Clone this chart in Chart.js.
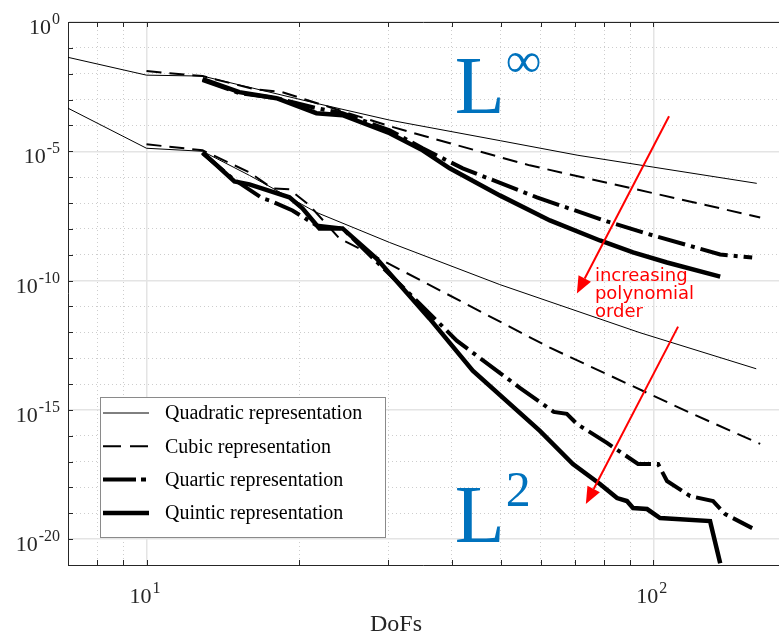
<!DOCTYPE html>
<html>
<head>
<meta charset="utf-8">
<script src="https://cdn.jsdelivr.net/npm/chart.js@4.4.1/dist/chart.umd.min.js"></script>
<style>
  html, body { margin: 0; padding: 0; background: #fff; }
  #wrap { width: 779px; height: 636px; }
</style>
</head>
<body>
<div id="wrap"><canvas id="conv"></canvas></div>
<script>
// error vs. number of DoFs, L-infinity norm
const quadInfDofs = [7, 10, 12.9, 21.6, 30.2, 50, 71, 100, 160];
const quadInfErr  = [4.3e-2, 8.8e-3, 8.1e-3, 7.2e-4, 1.6e-4, 2.55e-5, 7.0e-6, 2.44e-6, 5.75e-7];

const cubicInfDofs = [10, 12.9, 16.3, 18.5, 19.9, 30.2, 39.7, 57, 118, 162.5];
const cubicInfErr  = [1.26e-2, 8.1e-3, 2.53e-3, 1.94e-3, 1.24e-3, 9.3e-5, 2.04e-5, 2.86e-6, 1.15e-7, 2.77e-8];

const quartInfDofs = [12.9, 15.25, 18.05, 21.64, 24.37, 30.18, 35.06, 42.07, 58.92, 81.0, 99.9, 135.5, 156.7];
const quartInfErr  = [5.65e-3, 1.77e-3, 1.13e-3, 4.64e-4, 2.97e-4, 6.5e-5, 1.31e-5, 2.19e-6, 1.65e-7, 1.94e-8, 5.55e-9, 1.02e-9, 7.78e-10];

const quintInfDofs = [12.9, 15.25, 18.05, 21.64, 24.37, 30.18, 35.06, 39.65, 49.78, 62.51, 78.46, 91.2, 106.4, 135.5];
const quintInfErr  = [6.2e-3, 1.94e-3, 1.13e-3, 2.97e-4, 2.48e-4, 5.0e-5, 1.09e-5, 2.19e-6, 1.97e-7, 2.12e-8, 3.55e-9, 1.22e-9, 4.99e-10, 1.43e-10];

// error vs. number of DoFs, L2 norm
const quadL2Dofs = [7, 10, 12.9, 15.96, 21.64, 30.18, 49.78, 94.1, 159.6];
const quadL2Err  = [4.64e-4, 1.31e-5, 1.0e-5, 1.17e-6, 4.33e-8, 2.97e-9, 7.0e-11, 9.64e-13, 3.88e-14];

const cubicL2Dofs = [10, 12.9, 15.96, 17.72, 19.14, 20.97, 24.03, 29.24, 62.51, 118.2, 162.5];
const cubicL2Err  = [1.87e-5, 1.09e-5, 1.53e-6, 3.68e-7, 3.37e-7, 8.07e-8, 4.25e-9, 5.96e-10, 2.53e-13, 7.66e-16, 4.81e-17];

const quartL2Dofs = [12.9, 14.77, 16.93, 17.48, 19.41, 21.64, 24.37, 34.58, 40.94, 54.53, 63.6, 67.5, 70.66, 81.0, 93.3, 102.2, 106.4, 118.2, 131.2, 138.6, 156.7];
const quartL2Err  = [8.36e-6, 8.98e-7, 1.51e-7, 1.26e-7, 5.16e-8, 1.36e-8, 1.04e-8, 1.29e-11, 4.72e-13, 7.13e-15, 8.36e-16, 7.0e-16, 2.86e-16, 5.26e-17, 8.07e-18, 8.07e-18, 1.77e-18, 4.64e-19, 2.97e-19, 9.31e-20, 2.67e-20];

const quintL2Dofs = [12.9, 14.91, 15.96, 19.14, 20.31, 21.94, 24.37, 28.44, 36.2, 44.03, 59.73, 69.4, 78.46, 84.8, 88.7, 91.2, 97.2, 103.1, 129.4, 135.5];
const quintL2Err  = [9.14e-6, 6.87e-7, 5.26e-7, 1.65e-7, 6.18e-8, 1.04e-8, 1.04e-8, 7.13e-10, 3.37e-12, 3.25e-14, 1.53e-16, 8.07e-18, 1.36e-18, 3.88e-19, 2.97e-19, 1.59e-19, 1.46e-19, 6.52e-20, 4.99e-20, 1.17e-21];

const legendNames = ['Quadratic representation', 'Cubic representation', 'Quartic representation', 'Quintic representation'];

// axis ticks
const xMajor = [10, 100];
const xMinor = [7, 8, 9, 20, 30, 40, 50, 60, 70, 80, 90];
const yMajorExp = [0, -5, -10, -15, -20];
const yMinorExp = [-1, -2, -3, -4, -6, -7, -8, -9, -11, -12, -13, -14, -16, -17, -18, -19, -21];

const lineStyles = [
  { borderWidth: 1,   borderDash: [],             legendDash: [] },
  { borderWidth: 2,   borderDash: [15, 8],        legendDash: [18, 9] },
  { borderWidth: 4,   borderDash: [28, 6, 4, 6],  legendDash: [33, 5, 5, 5] },
  { borderWidth: 4.5, borderDash: [],             legendDash: [] }
];

function pts(xs, ys) {
  return xs.map((v, i) => ({ x: v, y: ys[i] }));
}

function series(xs, ys, k) {
  return {
    label: legendNames[k],
    data: pts(xs, ys),
    borderColor: '#000',
    borderWidth: lineStyles[k].borderWidth,
    borderDash: lineStyles[k].borderDash,
    pointRadius: 0,
    tension: 0,
    fill: false,
    xAxisID: 'x',
    yAxisID: 'y'
  };
}

const datasets = [
  series(quadInfDofs, quadInfErr, 0),
  series(cubicInfDofs, cubicInfErr, 1),
  series(quartInfDofs, quartInfErr, 2),
  series(quintInfDofs, quintInfErr, 3),
  series(quadL2Dofs, quadL2Err, 0),
  series(cubicL2Dofs, cubicL2Err, 1),
  series(quartL2Dofs, quartL2Err, 2),
  series(quintL2Dofs, quintL2Err, 3)
];

// annotation anchors in data units
const normLabels = [
  { sup: '\u221E', x: 40.56, y: 2.97e-4 },
  { sup: '2',      x: 40.56, y: 7.65e-21 }
];
const arrows = [
  { x0: 107.4, y0: 2.27e-4, x1: 70.66, y1: 3.13e-11 },
  { x0: 111.9, y0: 1.65e-12, x1: 73.6, y1: 2.27e-19 }
];
const noteLines = ['increasing', 'polynomial', 'order'];
const noteAt = { x: 76.7, y: 1e-10 };

const X_MIN = 7, X_MAX = 177, Y_MIN = 1e-21, Y_MAX = 1;
const AXIS = '#262626';
const BLUE = '#0072BD';

function drawPower(ctx, exp, left, base) {
  ctx.font = '22px "Liberation Serif"';
  ctx.fillText('10', left, base);
  const w = ctx.measureText('10').width;
  ctx.font = '16px "Liberation Serif"';
  ctx.fillText(String(exp), left + w + 1, base - 10);
}
function powerWidth(ctx, exp) {
  ctx.font = '22px "Liberation Serif"';
  const w = ctx.measureText('10').width;
  ctx.font = '16px "Liberation Serif"';
  return w + 1 + ctx.measureText(String(exp)).width;
}

function drawArrow(ctx, x0, y0, x1, y1) {
  const ang = Math.atan2(y1 - y0, x1 - x0);
  const len = 17, half = 7;
  const bx = x1 - len * Math.cos(ang), by = y1 - len * Math.sin(ang);
  ctx.beginPath();
  ctx.moveTo(x0, y0);
  ctx.lineTo(bx, by);
  ctx.stroke();
  ctx.beginPath();
  ctx.moveTo(x1, y1);
  ctx.lineTo(bx + half * Math.sin(ang), by - half * Math.cos(ang));
  ctx.lineTo(bx - half * Math.sin(ang), by + half * Math.cos(ang));
  ctx.closePath();
  ctx.fill();
}

const decorations = {
  id: 'decorations',
  afterDraw(chart) {
    const { ctx, chartArea: a } = chart;
    const xs = chart.scales.x, ys = chart.scales.y;
    ctx.save();

    // top edge and inward tick marks
    ctx.strokeStyle = AXIS;
    ctx.lineWidth = 1;
    ctx.setLineDash([]);
    ctx.beginPath();
    ctx.moveTo(a.left, a.top + 0.5);
    ctx.lineTo(a.right, a.top + 0.5);
    yMajorExp.concat(yMinorExp).forEach(e => {
      const py = Math.round(ys.getPixelForValue(Math.pow(10, e))) + 0.5;
      ctx.moveTo(a.left, py);
      ctx.lineTo(a.left + 5, py);
    });
    xMajor.concat(xMinor).forEach(v => {
      const px = Math.round(xs.getPixelForValue(v)) + 0.5;
      ctx.moveTo(px, a.bottom);
      ctx.lineTo(px, a.bottom - 5);
      ctx.moveTo(px, a.top);
      ctx.lineTo(px, a.top + 5);
    });
    ctx.stroke();

    // tick labels
    ctx.fillStyle = AXIS;
    ctx.textAlign = 'left';
    ctx.textBaseline = 'alphabetic';
    yMajorExp.forEach(e => {
      const py = ys.getPixelForValue(Math.pow(10, e));
      const w = powerWidth(ctx, e);
      drawPower(ctx, e, a.left - 8 - w, py + 12);
    });
    xMajor.forEach(v => {
      const px = xs.getPixelForValue(v);
      const e = Math.round(Math.log10(v));
      const w = powerWidth(ctx, e);
      drawPower(ctx, e, px - w / 2 - 1.5, a.bottom + 38);
    });
    ctx.font = '24px "Liberation Serif"';
    ctx.textAlign = 'center';
    ctx.fillText('DoFs', 396, 631);

    // legend box
    const lx = 100.5, ly = 397.5, lw = 285, lh = 140;
    ctx.fillStyle = '#fff';
    ctx.fillRect(lx, ly, lw, lh);
    ctx.strokeStyle = '#8a8a8a';
    ctx.lineWidth = 1;
    ctx.strokeRect(lx, ly, lw, lh);
    ctx.textAlign = 'left';
    ctx.textBaseline = 'middle';
    legendNames.forEach((name, k) => {
      const ry = 413 + k * 33.3;
      ctx.strokeStyle = '#000';
      ctx.lineWidth = lineStyles[k].borderWidth;
      ctx.setLineDash(lineStyles[k].legendDash);
      ctx.beginPath();
      ctx.moveTo(103, ry);
      ctx.lineTo(149, ry);
      ctx.stroke();
      ctx.setLineDash([]);
      ctx.fillStyle = '#000';
      ctx.font = '20px "Liberation Serif"';
      ctx.fillText(name, 165, ry + 1);
    });

    // norm labels
    ctx.textBaseline = 'alphabetic';
    ctx.fillStyle = BLUE;
    normLabels.forEach(n => {
      const px = xs.getPixelForValue(n.x), py = ys.getPixelForValue(n.y);
      ctx.font = '82px "Liberation Serif"';
      ctx.fillText('L', px, py);
      const w = ctx.measureText('L').width;
      ctx.font = '50px "Liberation Serif"';
      ctx.fillText(n.sup, px + w + 1, py - 36);
    });

    // arrows and note
    ctx.strokeStyle = '#ff0000';
    ctx.fillStyle = '#ff0000';
    ctx.lineWidth = 2;
    arrows.forEach(r => {
      drawArrow(ctx, xs.getPixelForValue(r.x0), ys.getPixelForValue(r.y0),
                xs.getPixelForValue(r.x1), ys.getPixelForValue(r.y1));
    });
    ctx.font = '18px "DejaVu Sans"';
    const nx = xs.getPixelForValue(noteAt.x), ny = ys.getPixelForValue(noteAt.y);
    noteLines.forEach((t, i) => ctx.fillText(t, nx, ny + i * 18));

    ctx.restore();
  }
};

function ticksFrom(values) {
  return s => { s.ticks = values.map(v => ({ value: v })); };
}
const yMajorVals = yMajorExp.map(e => Math.pow(10, e));
const yMinorVals = yMinorExp.map(e => Math.pow(10, e));

new Chart(document.getElementById('conv'), {
  type: 'line',
  data: { datasets: datasets },
  options: {
    responsive: true,
    maintainAspectRatio: false,
    animation: false,
    layout: { padding: { top: 22, right: 0, left: 0, bottom: 0 } },
    plugins: {
      legend: { display: false },
      tooltip: { enabled: false }
    },
    scales: {
      x: {
        type: 'logarithmic', min: X_MIN, max: X_MAX, position: 'bottom',
        afterBuildTicks: ticksFrom(xMajor),
        afterFit: s => { s.height = 71; },
        ticks: { display: false },
        grid: { color: '#e4e4e4', lineWidth: 1.5, drawTicks: false },
        border: { display: true, color: AXIS, width: 1 }
      },
      xMinor: {
        type: 'logarithmic', min: X_MIN, max: X_MAX, position: 'bottom',
        afterBuildTicks: ticksFrom(xMinor),
        afterFit: s => { s.height = 0; },
        ticks: { display: false },
        grid: { color: '#cdcdcd', lineWidth: 1, drawTicks: false },
        border: { display: false, dash: [1, 3] }
      },
      y: {
        type: 'logarithmic', min: Y_MIN, max: Y_MAX, position: 'left',
        afterBuildTicks: ticksFrom(yMajorVals),
        afterFit: s => { s.width = 68; },
        ticks: { display: false },
        grid: { color: '#e4e4e4', lineWidth: 1.5, drawTicks: false },
        border: { display: true, color: AXIS, width: 1 }
      },
      yMinor: {
        type: 'logarithmic', min: Y_MIN, max: Y_MAX, position: 'left',
        afterBuildTicks: ticksFrom(yMinorVals),
        afterFit: s => { s.width = 0; },
        ticks: { display: false },
        grid: { color: '#cdcdcd', lineWidth: 1, drawTicks: false },
        border: { display: false, dash: [1, 3] }
      }
    }
  },
  plugins: [decorations]
});
</script>
</body>
</html>
